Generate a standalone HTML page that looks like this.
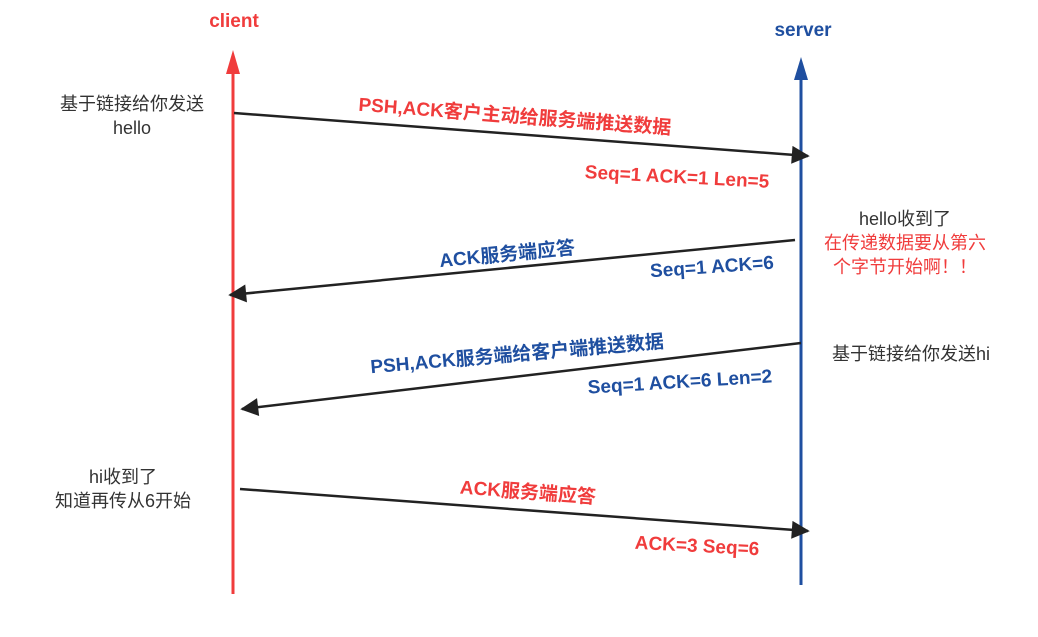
<!DOCTYPE html>
<html><head><meta charset="utf-8"><style>
body{margin:0;width:1038px;height:637px;background:#fff;overflow:hidden;position:relative;font-family:"Liberation Sans","Noto Sans CJK SC",sans-serif}
.t{position:absolute;white-space:nowrap;transform:translate(-50%,-50%) rotate(var(--r));font-weight:bold;font-size:19px}
.r{color:#f03c3c}.b{color:#1f4fa0}
.n{position:absolute;transform:translate(-50%,-50%);font-size:18px;color:#333;text-align:center;line-height:24px;white-space:nowrap}
</style></head><body>
<svg width="1038" height="637" style="position:absolute;left:0;top:0">
<defs>
<marker id="h" viewBox="0 0 10 10" markerWidth="22" markerHeight="18" refX="9" refY="5" orient="auto" markerUnits="userSpaceOnUse"><path d="M0,0 L10,5 L0,10 Z" fill="#222"/></marker></defs>
<line x1="233" y1="594" x2="233" y2="72" stroke="#f03c3c" stroke-width="3"/>
<path d="M233,50 L226,74 L240,74 Z" fill="#f03c3c"/>
<line x1="801" y1="585" x2="801" y2="78" stroke="#1f4fa0" stroke-width="3"/>
<path d="M801,57 L794,80 L808,80 Z" fill="#1f4fa0"/>
<g stroke="#222" stroke-width="2.5">
<line x1="234" y1="113" x2="808" y2="156" marker-end="url(#h)"/>
<line x1="795" y1="240" x2="230" y2="295" marker-end="url(#h)"/>
<line x1="801" y1="343" x2="242" y2="409" marker-end="url(#h)"/>
<line x1="240" y1="489" x2="808" y2="531" marker-end="url(#h)"/>
</g></svg>
<div class="t r" style="left:234px;top:22px;--r:0deg">client</div>
<div class="t b" style="left:803px;top:31px;--r:0deg">server</div>
<div class="t r" style="left:515px;top:115px;--r:4.3deg">PSH,ACK客户主动给服务端推送数据</div>
<div class="t r" style="left:677px;top:178px;--r:3deg">Seq=1 ACK=1 Len=5</div>
<div class="t b" style="left:507px;top:253px;--r:-5.6deg">ACK服务端应答</div>
<div class="t b" style="left:712px;top:268px;--r:-4deg">Seq=1 ACK=6</div>
<div class="t b" style="left:517px;top:353px;--r:-5deg">PSH,ACK服务端给客户端推送数据</div>
<div class="t b" style="left:680px;top:383px;--r:-3.5deg">Seq=1 ACK=6 Len=2</div>
<div class="t r" style="left:528px;top:491px;--r:4.2deg">ACK服务端应答</div>
<div class="t r" style="left:697px;top:547px;--r:3deg">ACK=3 Seq=6</div>
<div class="n" style="left:132px;top:116px">基于链接给你发送<br>hello</div>
<div class="n" style="left:905px;top:243px">hello收到了<br><span style="color:#f03c3c">在传递数据要从第六<br>个字节开始啊！！</span></div>
<div class="n" style="left:911px;top:354px">基于链接给你发送hi</div>
<div class="n" style="left:123px;top:489px">hi收到了<br>知道再传从6开始</div>
</body></html>
